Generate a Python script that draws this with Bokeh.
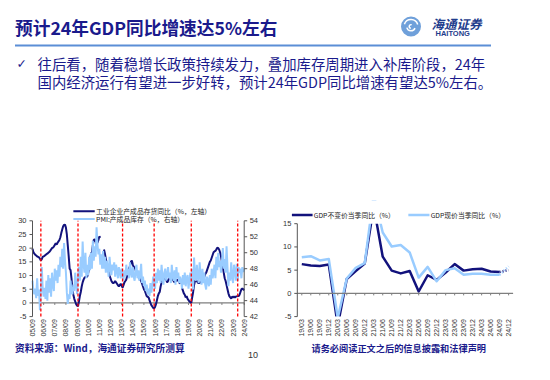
import math
from bokeh.plotting import figure
from bokeh.models import Range1d
from bokeh.layouts import column
from bokeh.embed import file_html
from bokeh.resources import INLINE
from bokeh.core.properties import value

NAVY = "#12127C"
LIGHT = "#99CCFF"
TXT = "#1A1A8C"
AXC = "#555555"
LBL = "#333333"
CJK = "Noto Sans CJK SC"
LAT = "Liberation Sans"
NaN = float("nan")

# ---------------- texts ----------------
title_text = "预计24年GDP同比增速达5%左右"
bullet_lines = ["往后看，随着稳增长政策持续发力，叠加库存周期进入补库阶段，24年",
                "国内经济运行有望进一步好转，预计24年GDP同比增速有望达5%左右。"]
source_text = "资料来源：Wind，海通证券研究所测算"
disclaimer_text = "请务必阅读正文之后的信息披露和法律声明"
page_no = "10"

# ---------------- left chart data (monthly, 2005-09 .. 2024-09) ----------------
left_legend = ["工业企业产成品存货同比（%，左轴）", "PMI:产成品库存（%，右轴）"]
inventory_yoy = [
    19.8, 18.5, 18.0, 17.6,
    17.3, 17.0, 16.8, 16.6, 16.2, 15.5, 16.0, 16.8, 17.0, 17.2, 17.5, 17.8,
    18.0, 18.3, 18.6, 19.0, 19.5, 20.0, 20.2, 20.6, 21.2, 21.8, 21.3, 22.0,
    22.5, 23.0, 24.0, 25.5, 26.8, 28.0, 28.5, 28.6, 27.5, 25.0, 21.0, 17.0,
    12.5, 12.0, 9.0, 5.0, 3.0, 1.5, 0.5, -0.5, -1.0, -1.2, 0.5, 2.5,
    4.0, 6.0, 7.5, 8.5, 9.2, 9.5, 9.5, 9.6, 11.0, 13.0, 15.5, 18.0,
    18.5, 21.0, 23.0, 23.3, 22.5, 21.8, 22.0, 23.0, 24.3, 23.8, NaN, NaN,
    NaN, 19.5, 18.0, 16.0, 14.5, 13.0, 11.5, 10.0, 9.0, 8.0, 7.5, 7.2,
    7.5, 8.0, 7.5, 7.0, 6.5, 6.0, 6.5, 7.0, 6.3, 5.6, 6.5, 7.5,
    8.0, 8.5, 10.0, 11.5, 12.5, 13.5, 15.0, 15.5, 14.0, 13.2, 13.0, 12.0,
    11.0, 10.5, 9.5, 9.0, 8.5, 8.0, 7.0, 6.0, 5.0, 4.4, 3.5, 2.5,
    2.2, 2.0, 1.0, 0.0, -0.8, -1.3, -1.8, -2.0, -1.5, -0.5, 1.0, 2.5,
    3.5, 4.0, 6.0, 7.5, 8.0, 8.5, 9.0, 9.0, 8.5, 7.5, 8.0, 9.0,
    NaN, 9.0, 9.5, 8.5, 8.0, 7.5, 8.5, 8.0, 8.3, 8.5, 7.5, 7.0,
    NaN, 5.5, 4.5, 3.5, 3.0, 2.0, 2.5, 1.5, 1.0, 0.5, 0.2, 0.0,
    2.0, 4.0, 6.5, 8.0, 8.5, 8.0, 7.5, 7.2, 7.5, 7.5, 8.0, 8.5,
    9.0, 9.5, 10.5, 11.0, 12.0, 13.0, 14.0, 15.0, 15.5, 16.5, 17.5, 18.5,
    18.8, 19.0, 19.5, 20.2, 20.0, 19.5, 18.5, 17.0, 15.0, 13.0, 11.0, 9.0,
    8.0, 6.5, 5.0, 3.5, 2.5, 2.0, 1.6, 2.3, 2.0, 2.3, 2.0, 2.3,
    2.4, 2.5, 2.5, 3.0, 4.0, 5.0, 5.3, 5.0, 4.6,
]
pmi_inventory = [
    46.5, 45.2, 44.8, 45.5,
    44.3, 46.8, 44.6, 45.4, 42.8, 45.0, 48.2, 45.5, 44.5, 45.6, 44.2, 46.5,
    44.0, 47.2, 45.0, 46.8, 44.5, 47.5, 46.0, 45.2, 48.0, 46.5, 47.8, 46.2,
    48.5, 47.0, 49.5, 48.2, 50.5, 48.0, 51.2, 49.0, 47.5, 45.0, 43.6, 44.8,
    44.2, 46.5, 45.0, 44.8, 46.0, 45.2, 47.5, 46.0, 44.8, 47.0, 48.2, 46.5,
    49.5, 47.0, 51.4, 48.5, 47.5, 50.0, 46.8, 48.5, 47.2, 49.5, 47.8, 50.0,
    48.0, 51.5, 49.0, 50.8, 49.5, 53.2, 51.0, 49.8, 50.5, 48.5, 49.8, 48.0,
    50.2, 48.0, 49.5, 47.5, 49.0, 48.2, 47.0, 49.5, 48.0, 47.2, 48.5, 47.8,
    48.8, 47.0, 48.5, 47.8, 46.8, 48.2, 47.5, 46.8, 48.0, 47.2, 46.5, 47.8,
    47.0, 48.5, 47.2, 48.0, 46.8, 48.8, 47.5, 46.9, 48.2, 47.0, 46.5, 47.8,
    48.5, 46.8, 47.8, 46.5, 47.2, 48.6, 46.2, 47.0, 45.8, 46.5, 45.2, 46.0,
    44.8, 45.5, 44.6, 46.2, 45.0, 45.8, 47.0, 46.0, 45.5, 47.5, 46.2, 48.0,
    46.5, 47.8, 46.2, 48.5, 47.0, 46.0, 47.5, 48.0, 46.5, 47.2, 48.2, 46.8,
    47.5, 46.2, 48.5, 47.0, 46.5, 47.8, 46.0, 48.2, 46.8, 47.5, 46.2, 47.0,
    46.5, 45.5, 47.2, 46.0, 47.5, 45.8, 46.8, 47.2, 45.5, 46.5, 47.5, 46.2,
    48.0, 45.4, 49.4, 47.0, 46.5, 48.5, 47.0, 46.2, 48.8, 47.2, 46.0, 48.0,
    46.2, 47.5, 46.0, 45.4, 47.0, 46.5, 45.8, 47.2, 46.0, 48.0, 46.8, 47.5,
    48.5, 46.8, 49.5, 47.8, 50.0, 48.2, 49.0, 47.5, 48.8, 50.6, 48.0, 49.2,
    47.5, 50.8, 48.2, 45.8, 47.5, 46.5, 48.8, 47.0, 46.2, 48.5, 47.8, 46.5,
    48.6, 46.5, 48.2, 47.5, 48.0, 46.8, 48.2, 47.6, 48.0,
]
left_tick_labels = ["05/09", "06/09", "07/09", "08/09", "09/09", "10/09", "11/09",
                    "12/09", "13/09", "14/09", "15/09", "16/09", "17/09", "18/09",
                    "19/09", "20/09", "21/09", "22/09", "23/09", "24/09"]
cycle_marks = ["2006-06", "2009-10", "2013-10", "2016-08", "2019-12", "2024-02"]
left_yticks = [-5, 0, 5, 10, 15, 20, 25, 30]
right_yticks = [42, 44, 46, 48, 50, 52, 54]

# ---------------- right chart data (quarterly, 19Q1 .. 24Q3, forecast 24Q4) ----------------
right_legend = ["GDP不变价当季同比（%）", "GDP现价当季同比（%）"]
quarters = ["19/03", "19/06", "19/09", "19/12", "20/03", "20/06", "20/09", "20/12",
            "21/03", "21/06", "21/09", "21/12", "22/03", "22/06", "22/09", "22/12",
            "23/03", "23/06", "23/09", "23/12", "24/03", "24/06", "24/09", "24/12"]
gdp_real = [6.3, 6.0, 5.9, 6.2, -6.9, 3.1, 4.8, 6.4, 18.7, 7.9, 4.9, 4.3,
            4.8, 0.4, 3.9, 2.9, 4.5, 6.3, 4.9, 5.2, 5.3, 4.7, 4.6]
gdp_nominal = [7.8, 8.0, 7.1, 7.4, -5.3, 3.2, 5.5, 6.5, 21.2, 13.1, 10.1, 10.4,
               8.8, 3.4, 5.7, 2.6, 5.0, 5.4, 4.0, 4.2, 4.2, 4.0, 4.0]
gdp_real_fcst = [4.6, 5.0]
gdp_nominal_fcst = [4.0, 5.8]
gdp_yticks = [-5, 0, 5, 10, 15]


def month_index(s):
    y, m = s.split("-")
    return (int(y) - 2005) * 12 + (int(m) - 9)


def bare(p):
    p.grid.visible = False
    p.outline_line_color = None
    p.background_fill_color = "white"
    p.border_fill_color = "white"


def fitted_range(d0, d1, p0, p1, total):
    """Range whose values d0..d1 land on pixels p0..p1 of a panel 'total' px long."""
    k = (p1 - p0) / (d1 - d0)
    return Range1d(d0 - p0 / k, d1 + (total - p1) / k), k


# ---------------- header ----------------
W = 534
HH = 200
ph = figure(width=W, height=HH, x_range=Range1d(0, W), y_range=Range1d(HH, 0),
            output_backend="svg", toolbar_location=None, min_border=0,
            x_axis_location=None, y_axis_location=None)
bare(ph)
ph.text(x=[14.5], y=[26.5], text=[title_text], text_font=value(CJK), text_font_style="bold",
        text_font_size="17.7px", text_color=TXT, text_baseline="middle")
ph.scatter(x=[410.5], y=[26], size=20, marker="circle", fill_color="#6FA0DA", line_color=None)
ph.arc(x=[410.5, 410.5, 410.5], y=[26, 26, 26], radius=[7.0, 4.3, 1.8],
       start_angle=[0.3, 3.4, 1.2], end_angle=[2.8, 5.9, 4.6],
       line_color="white", line_width=1.5)
ph.text(x=[431], y=[22.5], text=["海通证券"], text_font=value(CJK), text_font_style="bold italic",
        text_font_size="12.5px", text_color="#1E3C8C", text_baseline="middle")
ph.text(x=[435], y=[32.5], text=["HAITONG"], text_font=value(LAT), text_font_style="bold",
        text_font_size="7.5px", text_color="#1E3C8C", text_baseline="middle")
ph.segment(x0=[14.5], y0=[45], x1=[490.5], y1=[45], line_color="#5B8ED6", line_width=2)
ph.text(x=[16], y=[62.5], text=["✓"], text_font=value("DejaVu Sans"), text_font_size="12.5px",
        text_color=TXT, text_baseline="middle")
ph.text(x=[37, 37], y=[63.2, 80.5], text=bullet_lines, text_font=value(CJK),
        text_font_size="14.4px", text_color=TXT, text_baseline="middle")

# ---------------- chart row: both charts share one canvas ----------------
CH = 138
# pixel boxes (from top-left of the row) of the two value-axis frames
L_X0, L_X1, L_YT, L_YB = 32.0, 243.7, 20.3, 116.1
R_X0, R_X1, R_YT, R_YB = 296.8, 512.6, 23.2, 116.1

left_ticks = [12 * i for i in range(len(left_tick_labels))]
lo, hi = left_yticks[0], left_yticks[-1]
plo, phi = right_yticks[0], right_yticks[-1]
glo, ghi = gdp_yticks[0], gdp_yticks[-1]
nq = len(quarters)

lx, kxl = fitted_range(0, left_ticks[-1], L_X0, L_X1, W)
ly, kyl = fitted_range(lo, hi, CH - L_YB, CH - L_YT, CH)
py, kyp = fitted_range(plo, phi, CH - L_YB, CH - L_YT, CH)
rx, kxr = fitted_range(-0.5, nq - 0.5, R_X0, R_X1, W)
ry, kyr = fitted_range(glo, ghi, CH - R_YB, CH - R_YT, CH)

pc = figure(width=W, height=CH, x_range=lx, y_range=ly, output_backend="svg",
            toolbar_location=None, min_border=0, x_axis_location=None, y_axis_location=None)
bare(pc)
pc.extra_x_ranges = {"rx": rx}
pc.extra_y_ranges = {"pmi": py, "ry": ry}

# ---- left chart ----
xs = list(range(len(inventory_yoy)))
xs2 = list(range(len(pmi_inventory)))
n_lt = len(left_ticks)
pc.segment(x0=[0], y0=[0], x1=[left_ticks[-1]], y1=[0], line_color="#7F7F7F", line_width=1.3)
pc.segment(x0=left_ticks, y0=[0] * n_lt, x1=left_ticks, y1=[-2 / kyl] * n_lt,
           line_color="#7F7F7F", line_width=1)
pc.line(xs, inventory_yoy, line_color=NAVY, line_width=2)
pc.line(xs2, pmi_inventory, y_range_name="pmi", line_color=LIGHT, line_width=2)
marks = [month_index(m) for m in cycle_marks]
pc.segment(x0=marks, y0=[lo] * len(marks), x1=marks, y1=[hi] * len(marks),
           line_color="#FF0000", line_width=1.3, line_dash="3 2")
# left value axis
pc.segment(x0=[0], y0=[lo], x1=[0], y1=[hi], line_color=AXC, line_width=1)
pc.segment(x0=[0] * len(left_yticks), y0=left_yticks, x1=[-3 / kxl] * len(left_yticks), y1=left_yticks,
           line_color=AXC, line_width=1)
pc.text(x=[-6 / kxl] * len(left_yticks), y=left_yticks, text=[str(t) for t in left_yticks],
        text_align="right", text_baseline="middle", text_font=value(LAT),
        text_font_size="7.5px", text_color=LBL)
# right value axis (PMI)
xe = left_ticks[-1]
pc.segment(x0=[xe], y0=[plo], x1=[xe], y1=[phi], y_range_name="pmi", line_color=AXC, line_width=1)
pc.segment(x0=[xe] * len(right_yticks), y0=right_yticks, x1=[xe + 3 / kxl] * len(right_yticks),
           y1=right_yticks, y_range_name="pmi", line_color=AXC, line_width=1)
pc.text(x=[xe + 5.5 / kxl] * len(right_yticks), y=right_yticks, text=[str(t) for t in right_yticks],
        y_range_name="pmi", text_align="left", text_baseline="middle", text_font=value(LAT),
        text_font_size="7.5px", text_color=LBL)
# category labels
pc.text(x=left_ticks, y=[lo - 2.5 / kyl] * n_lt, text=left_tick_labels, angle=math.pi / 2,
        text_align="right", text_baseline="middle", text_font=value(LAT),
        text_font_size="7px", text_color=LBL)
# legend
pc.segment(x0=[44, 44], y0=[33.5, 30.7], x1=[67, 67], y1=[33.5, 30.7],
           line_color=[NAVY, LIGHT], line_width=2)
pc.text(x=[68.5, 68.5], y=[33.5, 30.7], text=left_legend, text_font=value(CJK),
        text_font_size="6.8px", text_color="#222222", text_baseline="middle")

# ---- right chart ----
R = dict(x_range_name="rx", y_range_name="ry")
qx = list(range(len(gdp_real)))
qx_f = [len(gdp_real) - 1, len(gdp_real)]
qticks = list(range(nq))
pc.line(qx, gdp_real, line_color=NAVY, line_width=2.5, line_join="round", **R)
pc.line(qx, gdp_nominal, line_color=LIGHT, line_width=2.5, line_join="round", **R)
pc.line(qx_f, gdp_real_fcst, line_color=NAVY, line_width=2.5, line_dash="1 2", **R)
pc.line(qx_f, gdp_nominal_fcst, line_color=LIGHT, line_width=2.5, line_dash="1 2", **R)
# mask the parts beyond the value axis (-5 .. 15)
pc.quad(left=[-0.5, -0.5], right=[nq - 0.5] * 2, bottom=[ry.start, ghi], top=[glo, ry.end],
        fill_color="white", line_color=None, **R)
pc.segment(x0=[-0.5], y0=[0], x1=[nq - 0.5], y1=[0], line_color="#7F7F7F", line_width=1.3, **R)
pc.segment(x0=qticks, y0=[0] * nq, x1=qticks, y1=[-2 / kyr] * nq, line_color="#7F7F7F",
           line_width=1, **R)
pc.segment(x0=[-0.5], y0=[glo], x1=[-0.5], y1=[ghi], line_color=AXC, line_width=1, **R)
pc.segment(x0=[-0.5] * len(gdp_yticks), y0=gdp_yticks, x1=[-0.5 - 3 / kxr] * len(gdp_yticks),
           y1=gdp_yticks, line_color=AXC, line_width=1, **R)
pc.text(x=[-0.5 - 6 / kxr] * len(gdp_yticks), y=gdp_yticks, text=[str(t) for t in gdp_yticks],
        text_align="right", text_baseline="middle", text_font=value(LAT),
        text_font_size="7.5px", text_color=LBL, **R)
pc.text(x=qticks, y=[glo - 2.5 / kyr] * nq, text=quarters, angle=math.pi / 2,
        text_align="right", text_baseline="middle", text_font=value(LAT),
        text_font_size="7px", text_color=LBL, **R)
# legend
pc.segment(x0=[-1.1, 11.85], y0=[16.85, 16.85], x1=[1.2, 14.2], y1=[16.85, 16.85],
           line_color=[NAVY, LIGHT], line_width=2.5, **R)
pc.text(x=[1.33, 14.33], y=[16.85, 16.85], text=right_legend, text_font=value(CJK),
        text_font_size="6.8px", text_color="#222222", text_baseline="middle", **R)

# ---------------- footer ----------------
FH = 364 - HH - CH
pf = figure(width=W, height=FH, x_range=Range1d(0, W), y_range=Range1d(FH, 0),
            output_backend="svg", toolbar_location=None, min_border=0,
            x_axis_location=None, y_axis_location=None)
bare(pf)
pf.text(x=[14.5], y=[9.5], text=[source_text], text_font=value(CJK), text_font_style="bold",
        text_font_size="9.7px", text_color=TXT, text_baseline="middle")
pf.text(x=[485.5], y=[9.5], text=[disclaimer_text], text_font=value(CJK), text_font_style="bold",
        text_font_size="9.2px", text_color=TXT, text_baseline="middle", text_align="right")
pf.text(x=[252.5], y=[16.5], text=[page_no], text_font=value(LAT),
        text_font_size="9px", text_color="#333333", text_baseline="middle", text_align="center")

layout = column(ph, pc, pf)
open("out.html", "w").write(file_html(layout, INLINE))
